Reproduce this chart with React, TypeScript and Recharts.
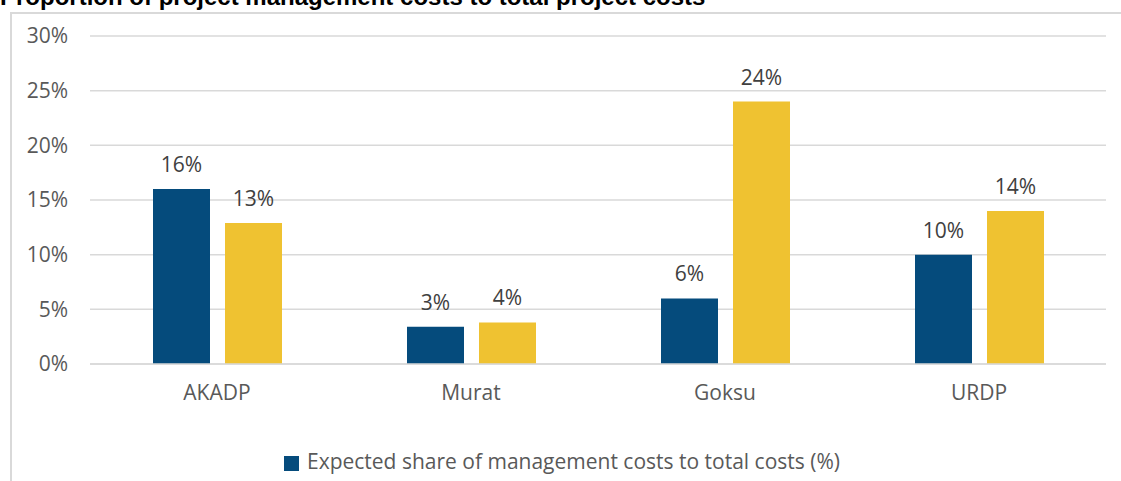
import React from 'react';
import { BarChart, Bar, XAxis, YAxis, CartesianGrid, Legend, LabelList } from 'recharts';

const categories = ['AKADP', 'Murat', 'Goksu', 'URDP'];
const expectedShare = [16, 3.4, 6, 10];
const actualShare = [12.9, 3.8, 24, 14];
const yTicks = [0, 5, 10, 15, 20, 25, 30];
const seriesNames = ['Expected share of management costs to total costs (%)', 'Actual share of management costs to total costs (%)'];
const titleText = 'Proportion of project management costs to total project costs';

const data = categories.map((c, i) => ({ name: c, expected: expectedShare[i], actual: actualShare[i] }));

const FONT = "'Open Sans', sans-serif";

export default function App() {
  return (
    <div style={{ position: 'absolute', left: 0, top: 0, width: 1121, height: 481, overflow: 'hidden', background: '#fff', fontFamily: FONT }}>
      <div style={{ position: 'absolute', left: 10, top: 12, width: 1300, height: 600, borderTop: '2px solid #d9d9d9', borderLeft: '2px solid #d9d9d9', boxSizing: 'border-box' }} />
      <div style={{ position: 'absolute', left: 0, top: 0 }}>
        <BarChart
          width={1121}
          height={481}
          data={data}
          margin={{ top: 36, right: 15, left: 10, bottom: 6 }}
          barSize={57}
          barGap={15}
          style={{ fontFamily: FONT }}
        >
          <CartesianGrid vertical={false} stroke="#d9d9d9" strokeWidth={1.5} />
          <XAxis
            dataKey="name"
            height={83}
            axisLine={{ stroke: '#d9d9d9', strokeWidth: 1.5 }}
            tickLine={false}
            tickMargin={15}
            tick={{ fill: '#595959', fontSize: 21 }}
          />
          <YAxis
            width={80}
            domain={[0, 30]}
            ticks={yTicks}
            tickFormatter={(v: number) => `${v}%`}
            axisLine={false}
            tickLine={false}
            tickMargin={16}
            tick={{ fill: '#595959', fontSize: 21 }}
          />
          <Legend
            verticalAlign="bottom"
            align="center"
            iconType="square"
            iconSize={15}
            wrapperStyle={{ lineHeight: '28px', fontSize: 21, paddingLeft: 9 }}
            formatter={(value: string) => <span style={{ color: '#595959', marginLeft: 4 }}>{value}</span>}
          />
          <Bar dataKey="expected" name={seriesNames[0]} fill="#054b7c" isAnimationActive={false}>
            <LabelList dataKey="expected" position="top" offset={17} fill="#404040" fontSize={21} formatter={(v: number) => `${Math.round(v)}%`} />
          </Bar>
          <Bar dataKey="actual" name={seriesNames[1]} fill="#efc231" legendType="none" isAnimationActive={false}>
            <LabelList dataKey="actual" position="top" offset={17} fill="#404040" fontSize={21} formatter={(v: number) => `${Math.round(v)}%`} />
          </Bar>
        </BarChart>
      </div>
      <svg width={1121} height={20} style={{ position: 'absolute', left: 0, top: 0 }}>
        <text x={0} y={5} fontFamily="'Liberation Sans', Arial, sans-serif" fontWeight="bold" fontSize={24} fill="#000">{titleText}</text>
      </svg>
    </div>
  );
}
